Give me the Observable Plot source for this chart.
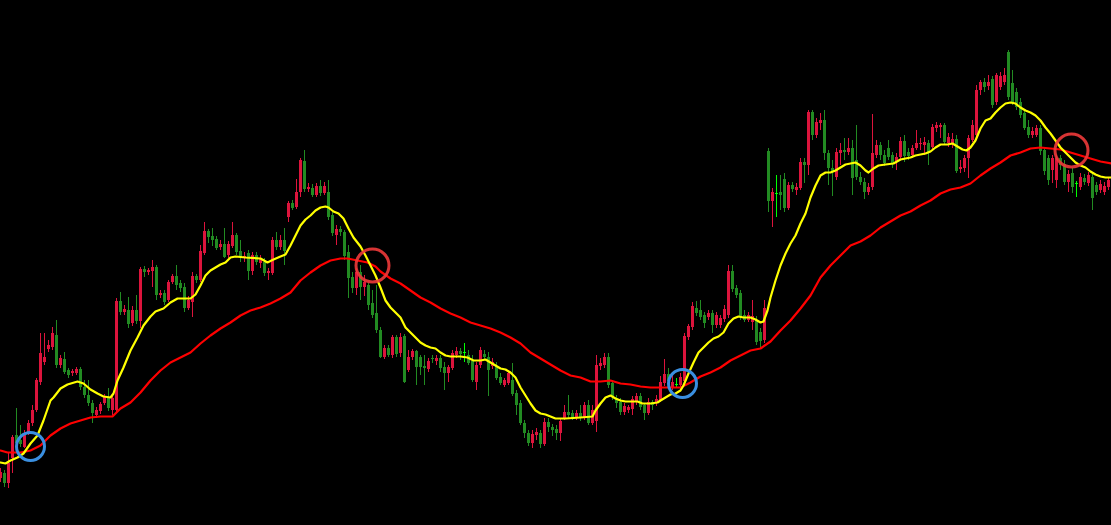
<!DOCTYPE html>
<html>
<head>
<meta charset="utf-8">
<script src="https://cdn.jsdelivr.net/npm/d3@7"></script>
<script src="https://cdn.jsdelivr.net/npm/@observablehq/plot@0.6"></script>
<style>
  html, body { margin: 0; padding: 0; background: #000; overflow: hidden; }
  #chart svg { display: block; }
</style>
</head>
<body>
<div id="chart"></div>
<script>
// ---- Candles (price units, one entry per bar) ----
const opens = [
  47,52,42,67,90,85,78,93,102,115,
  143,163,176,178,190,160,166,155,152,152,
  156,138,130,122,110,114,122,128,115,115,
  224,213,215,202,215,204,256,253,254,258,
  230,232,225,243,249,242,238,217,223,249,
  245,272,294,289,286,278,281,270,279,290,
  274,267,272,254,270,262,263,252,252,285,
  278,285,308,322,318,333,364,336,337,330,
  339,332,333,310,290,296,293,273,248,237,
  253,238,240,222,212,195,168,177,170,188,
  172,189,155,168,174,168,159,156,167,164,
  167,158,152,157,170,174,173,170,164,143,
  160,171,168,159,159,148,140,142,145,132,
  122,102,92,82,90,92,81,103,98,96,
  92,107,113,112,107,112,107,120,102,104,
  159,160,168,142,127,123,113,115,116,123,
  129,120,112,123,122,125,142,151,138,141,
  140,144,188,198,217,215,210,208,212,200,
  200,206,210,254,237,232,210,205,203,205,
  193,185,374,324,332,333,346,317,340,335,
  337,363,360,413,390,402,405,372,357,348,
  372,375,373,377,365,348,343,333,338,370,
  380,370,377,370,363,368,384,373,370,377,
  381,380,382,378,397,398,400,382,382,386,
  356,357,367,385,390,435,443,439,446,423,
  438,443,473,442,433,423,412,398,390,390,
  397,375,367,355,345,367,361,343,352,342,
  338,347,342,348,340,335,333,338
];
const highs = [
  57,55,73,90,117,100,95,105,120,147,
  192,192,185,198,205,170,173,157,156,158,
  158,145,145,125,118,123,131,137,130,227,
  233,220,228,219,230,258,259,257,265,260,
  235,235,245,251,260,245,242,229,253,251,
  280,303,296,297,289,285,297,284,303,292,
  285,273,275,273,273,270,267,257,288,293,
  290,297,324,325,346,367,375,342,341,342,
  345,343,345,313,300,299,295,280,253,257,
  260,250,242,235,240,198,180,180,190,190,
  192,191,175,176,175,170,170,167,170,170,
  170,163,160,175,178,177,182,175,170,163,
  178,175,173,167,163,152,147,155,162,135,
  125,105,95,95,97,95,107,107,101,100,
  107,120,130,115,115,120,123,125,120,170,
  167,172,172,145,130,127,122,120,129,132,
  132,122,127,125,130,149,166,157,150,147,
  152,192,201,223,224,225,213,215,215,213,
  210,220,260,260,240,235,215,213,225,209,
  197,225,377,337,350,350,352,343,343,342,
  367,367,415,415,407,412,415,375,365,377,
  382,387,387,385,400,353,347,342,411,385,
  383,375,385,373,372,388,390,377,380,395,
  387,388,385,401,403,402,402,392,392,390,
  365,370,390,405,440,445,447,450,449,452,
  453,457,475,455,437,427,415,405,398,400,
  400,378,370,370,370,370,365,355,357,344,
  352,351,353,352,343,345,343,348
];
const lows = [
  43,38,37,52,78,78,77,90,99,113,
  140,160,173,175,157,157,151,147,149,150,
  135,127,119,102,107,111,120,114,110,113,
  210,210,197,199,201,197,248,250,238,225,
  227,220,223,241,235,233,213,215,208,242,
  243,270,282,279,275,275,267,267,277,270,
  263,263,245,250,260,257,249,245,250,275,
  275,260,303,315,316,328,333,333,328,328,
  329,330,305,289,280,289,265,227,232,230,
  225,229,215,207,192,167,166,168,167,168,
  168,142,153,165,140,150,140,153,162,160,
  153,135,143,155,167,165,163,160,143,135,
  157,165,129,156,145,140,138,140,129,110,
  100,87,79,77,85,77,79,93,89,85,
  84,105,107,105,105,104,105,100,100,93,
  155,157,137,125,117,110,110,112,110,120,
  115,105,110,115,119,123,139,140,135,137,
  136,141,185,195,209,205,197,205,192,197,
  197,203,207,233,227,205,203,203,195,180,
  177,182,313,298,308,315,313,315,333,330,
  335,342,350,385,387,395,365,340,329,345,
  360,365,370,330,345,340,326,330,335,367,
  365,359,365,357,355,365,363,365,367,375,
  375,370,360,375,393,387,380,378,377,352,
  352,353,347,383,388,430,433,435,417,420,
  435,440,425,420,415,407,395,387,387,388,
  370,350,340,342,337,355,340,333,332,328,
  335,340,339,315,330,332,330,335
];
const closes = [
  53,42,62,88,82,81,90,102,115,145,
  172,168,180,192,160,167,153,150,154,156,
  138,130,122,112,115,121,128,117,127,224,
  213,216,201,215,204,256,253,255,258,230,
  232,223,243,249,240,237,217,225,249,245,
  274,294,288,285,277,281,268,281,290,273,
  268,269,254,270,263,267,252,254,285,278,
  285,274,322,317,333,365,336,338,330,339,
  332,339,308,292,296,293,269,247,237,253,
  238,243,220,210,195,168,177,170,188,171,
  188,143,168,174,158,158,157,164,166,167,
  157,152,158,172,174,171,173,162,145,160,
  175,168,155,163,147,142,145,152,131,120,
  102,92,82,91,93,81,103,98,95,92,
  104,113,110,107,112,107,120,102,115,160,
  162,168,140,128,122,113,119,118,126,129,
  118,112,123,120,126,143,151,144,143,141,
  148,189,199,219,212,208,202,212,200,210,
  207,216,254,236,230,208,205,210,209,183,
  184,217,324,333,332,330,317,340,336,338,
  363,360,413,390,403,405,372,357,353,373,
  375,373,377,347,348,343,333,338,372,380,
  370,362,368,362,368,384,369,369,377,382,
  382,383,372,398,400,400,383,388,386,354,
  358,367,387,400,435,443,438,443,420,450,
  449,450,428,422,418,410,397,390,394,397,
  374,354,345,367,367,360,343,351,338,342,
  348,343,350,327,333,341,339,345
];

// ---- Fast moving average (yellow), read at bar positions ----
const fastBar = [
  0,1.25,2.5,4.25,5.75,7.5,9.25,10.75,12.5,13.25,
  15,16.75,19.25,20.75,22.5,24.25,25.75,27.5,28.25,29.25,
  30.75,32.5,34.25,35.75,37.5,38.75,40.75,42.5,44.25,45.75,
  47.5,48.75,50,51.25,52.5,53.75,55,56.25,57.5,58.75,
  61.25,65,66.75,68.25,70,71.25,72.5,73.75,75,76.25,
  77.5,78.75,80,81.25,82,83.25,84.5,85.75,87,88.25,
  90,91.25,92.5,93.75,95,96.25,97.5,98.75,100,101.25,
  102.5,103.75,105,106.25,107.5,108.75,110,111.25,112.5,115,
  116.75,118.25,120,121.25,122.5,123.75,125,126.25,127.5,128.75,
  130,131.25,132.5,133.75,135,136.25,137.5,138.75,141.25,145,
  148,148.75,150,151.25,152.5,153.75,155,156.25,159.25,160.5,
  162.5,164.25,165,166.25,167.5,168.75,170,170.75,172,173.25,
  174.5,175.75,177,178.25,179.5,180.75,182,183.25,184.5,185.75,
  187.5,188.75,190,190.75,191.75,192.5,193.75,195,196.25,197.5,
  198.75,200,201.25,202.5,203.75,205,206.25,207.5,208.75,210,
  211.25,212.5,213.75,215,216.25,217,218.25,219.5,221.25,223.25,
  225,227.5,228.75,231.25,232.5,233.75,235,236.75,238,239.25,
  240.5,241.5,242.5,243.75,245,246.25,247.5,248.75,250,251.25,
  252.5,253.75,255,256.25,257.5,258.75,260,261.25,262.5,263.75,
  265,266.25,267.5,268.75,270,271.25,272.5,273.75,275,276.25,
  277.75
];
const fastVal = [
  63,62,65,68,72,82,90,105,125,128,
  137,141,144,142,136,132,129,128,132,145,
  158,175,188,200,209,214,217,223,227,227,
  227,231,240,250,255,258,261,263,268,269,
  268,267,263,266,269,271,280,290,300,306,
  310,315,318,319,318,314,312,307,297,288,
  279,270,260,250,238,225,218,213,208,198,
  193,188,183,180,178,177,173,170,169,169,
  168,165,165,166,163,160,157,156,153,148,
  138,130,122,115,112,111,109,107,107,108,
  109,115,122,128,130,127,125,124,124,122,
  122,123,125,128,131,132,135,140,152,163,
  173,178,183,187,189,193,202,207,209,208,
  208,206,203,204,215,228,245,260,272,282,
  290,302,312,328,340,350,353,353,355,358,
  361,362,363,360,355,353,357,360,361,362,
  366,368,370,372,374,378,381,381,382,379,
  376,375,378,385,397,405,407,413,418,422,
  423,422,418,415,413,410,405,398,392,385,
  378,373,368,363,360,358,354,351,349,348,
  348
];

// ---- Slow moving average (red) ----
const slowBar = [
  0,1.75,5,7.5,10,12.5,15,17.5,20,22.5,
  25,28,30,32.5,35,37.5,40,42.5,45,47.5,
  50,52.5,55,57.5,60,62.5,65,67.5,70,72.5,
  75,77.5,80,82.5,85,86.75,89.25,91.75,93.75,95,
  97.5,100,102.5,105,107.5,110,112.5,115,117.5,120,
  122.5,125,127.5,130,132.5,135,137.5,140,142.5,145,
  147.5,150,152.5,155,157.5,160,162.5,165,167.5,170,
  172.5,175,177.5,180,182.5,185,187.5,190,192.5,195,
  197.5,200,202.5,205,207.5,210,212.5,215,217.5,220,
  222.5,225,227.5,230,232.5,235,237.5,240,242.5,245,
  247.5,250,252.5,255,257.5,260,262.5,265,267.5,270,
  272.5,275,277.75
];
const slowVal = [
  75,73,73,75,80,90,97,102,105,108,
  109,109,117,123,133,145,155,163,168,173,
  182,190,197,203,210,215,218,222,227,233,
  245,253,260,265,267,267,265,263,259,254,
  247,242,235,228,223,217,212,208,203,200,
  197,193,188,182,173,167,161,155,150,148,
  144,144,145,142,141,139,138,138,138,138,
  143,149,153,158,165,170,175,177,184,195,
  205,217,230,248,260,270,280,284,290,298,
  304,310,314,320,325,332,336,338,342,350,
  357,363,370,373,377,378,377,376,373,370,
  367,364,362
];

// ---- Crossover markers ----
const crossBar = [7.5, 93, 170.5, 267.75];
const crossVal = [79, 260, 142, 375];
const crossKind = ["up", "down", "up", "down"];

// ---- Build tables ----
const UP = "#dc143c", DOWN = "#228b22", DOJI = "#00ff00";
const candles = opens.map((o, i) => ({i, open: o, high: highs[i], low: lows[i], close: closes[i]}));
const colorOf = d => d.close > d.open ? UP : d.close < d.open ? DOWN : DOJI;
const bodies = candles.filter(d => d.open !== d.close);
const dojis = candles.filter(d => d.open === d.close);
const fast = fastBar.map((b, k) => ({bar: b, value: fastVal[k]}));
const slow = slowBar.map((b, k) => ({bar: b, value: slowVal[k]}));
const crosses = crossBar.map((b, k) => ({bar: b, value: crossVal[k], kind: crossKind[k]}));

const chart = Plot.plot({
  width: 1111,
  height: 525,
  margin: 0,
  style: {background: "#000", overflow: "visible"},
  x: {domain: [0, 277.75], axis: null},
  y: {domain: [0, 525], axis: null},
  color: {type: "identity"},
  marks: [
    Plot.ruleX(candles, {x: "i", y1: "low", y2: "high", stroke: colorOf, strokeWidth: 1, shapeRendering: "crispEdges"}),
    Plot.ruleX(bodies, {x: "i", y1: "open", y2: "close", stroke: colorOf, strokeWidth: 3, strokeLinecap: "butt", shapeRendering: "crispEdges"}),
    Plot.ruleY(dojis, {y: "close", x1: d => d.i - 0.25, x2: d => d.i + 0.5, stroke: DOJI, strokeWidth: 1, shapeRendering: "crispEdges"}),
    Plot.line(slow, {x: "bar", y: "value", stroke: "#ff0000", strokeWidth: 2.2}),
    Plot.line(fast, {x: "bar", y: "value", stroke: "#ffff00", strokeWidth: 2.2}),
    Plot.dot(crosses.filter(d => d.kind === "up"), {x: "bar", y: "value", r: 14, stroke: "#3a8fe0", strokeWidth: 3, fill: "none"}),
    Plot.dot(crosses.filter(d => d.kind === "down"), {x: "bar", y: "value", r: 16.5, stroke: "#ee3a3a", strokeWidth: 3, fill: "none", strokeOpacity: 0.9})
  ]
});
document.getElementById("chart").appendChild(chart);
</script>
</body>
</html>
